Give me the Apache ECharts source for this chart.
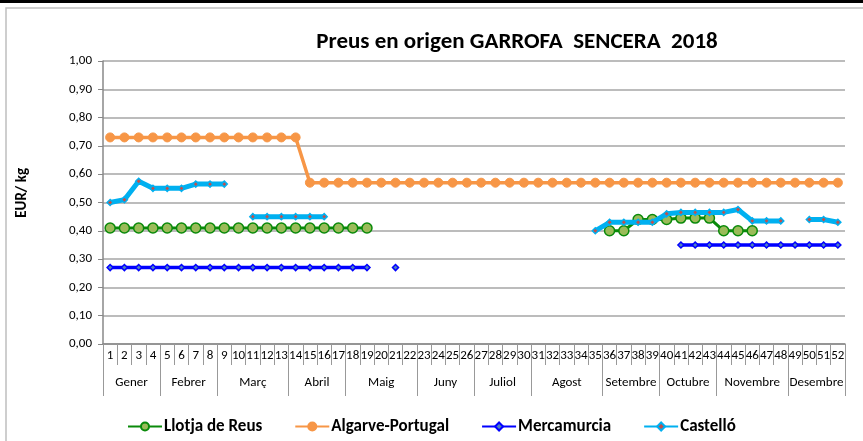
<!DOCTYPE html>
<html lang="ca">
<head>
    <meta charset="UTF-8">
    <title>Preus en origen GARROFA SENCERA 2018</title>
    <script src="https://cdn.jsdelivr.net/npm/echarts@6/dist/echarts.min.js"></script>
    <style>
        html, body { margin: 0; padding: 0; background: #fff; }
        #chart { width: 863px; height: 441px; }
    </style>
</head>
<body>
<div id="chart"></div>
<script>
    // setmanes 1..52
    var weeks = [];
    for (var w = 1; w <= 52; w++) weeks.push(String(w));

    // mesos: nom i nombre de setmanes
    var months = ['Gener', 'Febrer', 'Març', 'Abril', 'Maig', 'Juny', 'Juliol', 'Agost', 'Setembre', 'Octubre', 'Novembre', 'Desembre'];
    var monthWeeks = [4, 4, 5, 4, 5, 4, 4, 5, 4, 4, 5, 4];

    var yTicks = [0, 0.1, 0.2, 0.3, 0.4, 0.5, 0.6, 0.7, 0.8, 0.9, 1];

    var llotjaReus = [
        0.41, 0.41, 0.41, 0.41, 0.41, 0.41, 0.41, 0.41, 0.41, 0.41,
        0.41, 0.41, 0.41, 0.41, 0.41, 0.41, 0.41, 0.41, 0.41, null,
        null, null, null, null, null, null, null, null, null, null,
        null, null, null, null, null, 0.40, 0.40, 0.44, 0.44, 0.44,
        0.445, 0.445, 0.445, 0.40, 0.40, 0.40, null, null, null, null,
        null, null
    ];
    var algarve = [
        0.73, 0.73, 0.73, 0.73, 0.73, 0.73, 0.73, 0.73, 0.73, 0.73,
        0.73, 0.73, 0.73, 0.73, 0.57, 0.57, 0.57, 0.57, 0.57, 0.57,
        0.57, 0.57, 0.57, 0.57, 0.57, 0.57, 0.57, 0.57, 0.57, 0.57,
        0.57, 0.57, 0.57, 0.57, 0.57, 0.57, 0.57, 0.57, 0.57, 0.57,
        0.57, 0.57, 0.57, 0.57, 0.57, 0.57, 0.57, 0.57, 0.57, 0.57,
        0.57, 0.57
    ];
    var mercamurcia = [
        0.27, 0.27, 0.27, 0.27, 0.27, 0.27, 0.27, 0.27, 0.27, 0.27,
        0.27, 0.27, 0.27, 0.27, 0.27, 0.27, 0.27, 0.27, 0.27, null,
        0.27, null, null, null, null, null, null, null, null, null,
        null, null, null, null, null, null, null, null, null, null,
        0.35, 0.35, 0.35, 0.35, 0.35, 0.35, 0.35, 0.35, 0.35, 0.35,
        0.35, 0.35
    ];
    var castello = [
        0.50, 0.51, 0.575, 0.55, 0.55, 0.55, 0.565, 0.565, 0.565, null,
        0.45, 0.45, 0.45, 0.45, 0.45, 0.45, null, null, null, null,
        null, null, null, null, null, null, null, null, null, null,
        null, null, null, null, 0.40, 0.43, 0.43, 0.43, 0.43, 0.46,
        0.465, 0.465, 0.465, 0.465, 0.475, 0.435, 0.435, 0.435, null, 0.44,
        0.44, 0.43
    ];

    // eix auxiliar de mesos: punts a cada mitja setmana (0..104)
    var monthSlots = [];
    var monthBounds = [0];
    var monthCenters = {};
    var acc = 0;
    for (var i = 0; i < months.length; i++) {
        monthCenters[acc + monthWeeks[i]] = months[i];
        acc += monthWeeks[i] * 2;
        monthBounds.push(acc);
    }
    for (var j = 0; j <= 104; j++) monthSlots.push(monthCenters[j] || '');

    var font = 'Carlito, "Liberation Sans Narrow", "Liberation Sans", Arial, sans-serif';

    var option = {
        animation: false,
        backgroundColor: '#ffffff',
        title: {
            text: 'Preus en origen GARROFA  SENCERA  2018',
            left: 512,
            top: 26,
            textAlign: 'center',
            textStyle: { fontFamily: font, fontSize: 23, fontWeight: 'bold', color: '#000' }
        },
        legend: {
            left: 122,
            top: 413,
            itemWidth: 34,
            itemHeight: 10,
            itemGap: 32,
            textStyle: { fontFamily: font, fontSize: 17, fontWeight: 'bold', color: '#000', padding: [0, 0, 0, -3] },
            data: ['Llotja de Reus', 'Algarve-Portugal', 'Mercamurcia', 'Castelló']
        },
        graphic: [
            { type: 'rect', shape: { x: 0, y: 0, width: 863, height: 3 }, style: { fill: '#000' }, silent: true },
            { type: 'rect', shape: { x: 6, y: 8, width: 900, height: 500 }, style: { fill: 'none', stroke: '#bfbfbf', lineWidth: 1.5 }, silent: true },
            {
                type: 'text', left: 15, top: 168, rotation: Math.PI / 2,
                style: { text: 'EUR/ kg', font: 'bold 15px ' + font, fill: '#000' }
            }
        ],
        grid: { left: 103, right: 18, top: 61, bottom: 97 },
        xAxis: [{
            type: 'category',
            data: weeks,
            boundaryGap: true,
            axisLine: { lineStyle: { color: '#888', width: 1.5 } },
            axisTick: { show: true, interval: 0, length: 21, lineStyle: { color: '#999' } },
            axisLabel: { interval: 0, margin: 5, fontFamily: font, fontSize: 13, color: '#000' }
        }, {
            type: 'category',
            data: monthSlots,
            boundaryGap: false,
            position: 'bottom',
            axisLine: { show: false },
            axisTick: {
                show: true, length: 52, lineStyle: { color: '#999' },
                interval: function (idx) { return monthBounds.indexOf(idx) >= 0; }
            },
            axisLabel: {
                margin: 32, fontFamily: font, fontSize: 13, color: '#000',
                interval: function (idx, val) { return val !== ''; }
            }
        }],
        yAxis: {
            type: 'value',
            min: yTicks[0],
            max: yTicks[yTicks.length - 1],
            interval: 0.1,
            axisLine: { show: true, lineStyle: { color: '#888', width: 1.5 } },
            axisTick: { show: true, length: 5, lineStyle: { color: '#888' } },
            splitLine: { lineStyle: { color: '#a6a6a6', width: 1.5 } },
            axisLabel: {
                margin: 11, fontFamily: font, fontSize: 13, color: '#000',
                formatter: function (v) { return v.toFixed(2).replace('.', ','); }
            }
        },
        series: [{
            name: 'Llotja de Reus',
            type: 'line',
            data: llotjaReus,
            symbol: 'circle',
            symbolSize: 10,
            lineStyle: { color: '#0a8a0a', width: 3 },
            itemStyle: { color: '#9bbb59', borderColor: '#0a8a0a', borderWidth: 1.5 },
            z: 3
        }, {
            name: 'Algarve-Portugal',
            type: 'line',
            data: algarve,
            symbol: 'circle',
            symbolSize: 9,
            lineStyle: { color: '#f79646', width: 3.5 },
            itemStyle: { color: '#f79646', borderColor: '#f79646', borderWidth: 1 },
            z: 2
        }, {
            name: 'Mercamurcia',
            type: 'line',
            data: mercamurcia,
            symbol: 'diamond',
            symbolSize: 6,
            lineStyle: { color: '#0000ff', width: 3.5 },
            itemStyle: { color: '#4f81bd', borderColor: '#0000ff', borderWidth: 1.5 },
            z: 2
        }, {
            name: 'Castelló',
            type: 'line',
            data: castello,
            symbol: 'diamond',
            symbolSize: 6,
            lineStyle: { color: '#00b0f0', width: 5 },
            itemStyle: { color: '#c0504d', borderColor: '#00b0f0', borderWidth: 1.5 },
            z: 4
        }]
    };

    var myChart = echarts.init(document.getElementById('chart'));
    myChart.setOption(option);
</script>
</body>
</html>
